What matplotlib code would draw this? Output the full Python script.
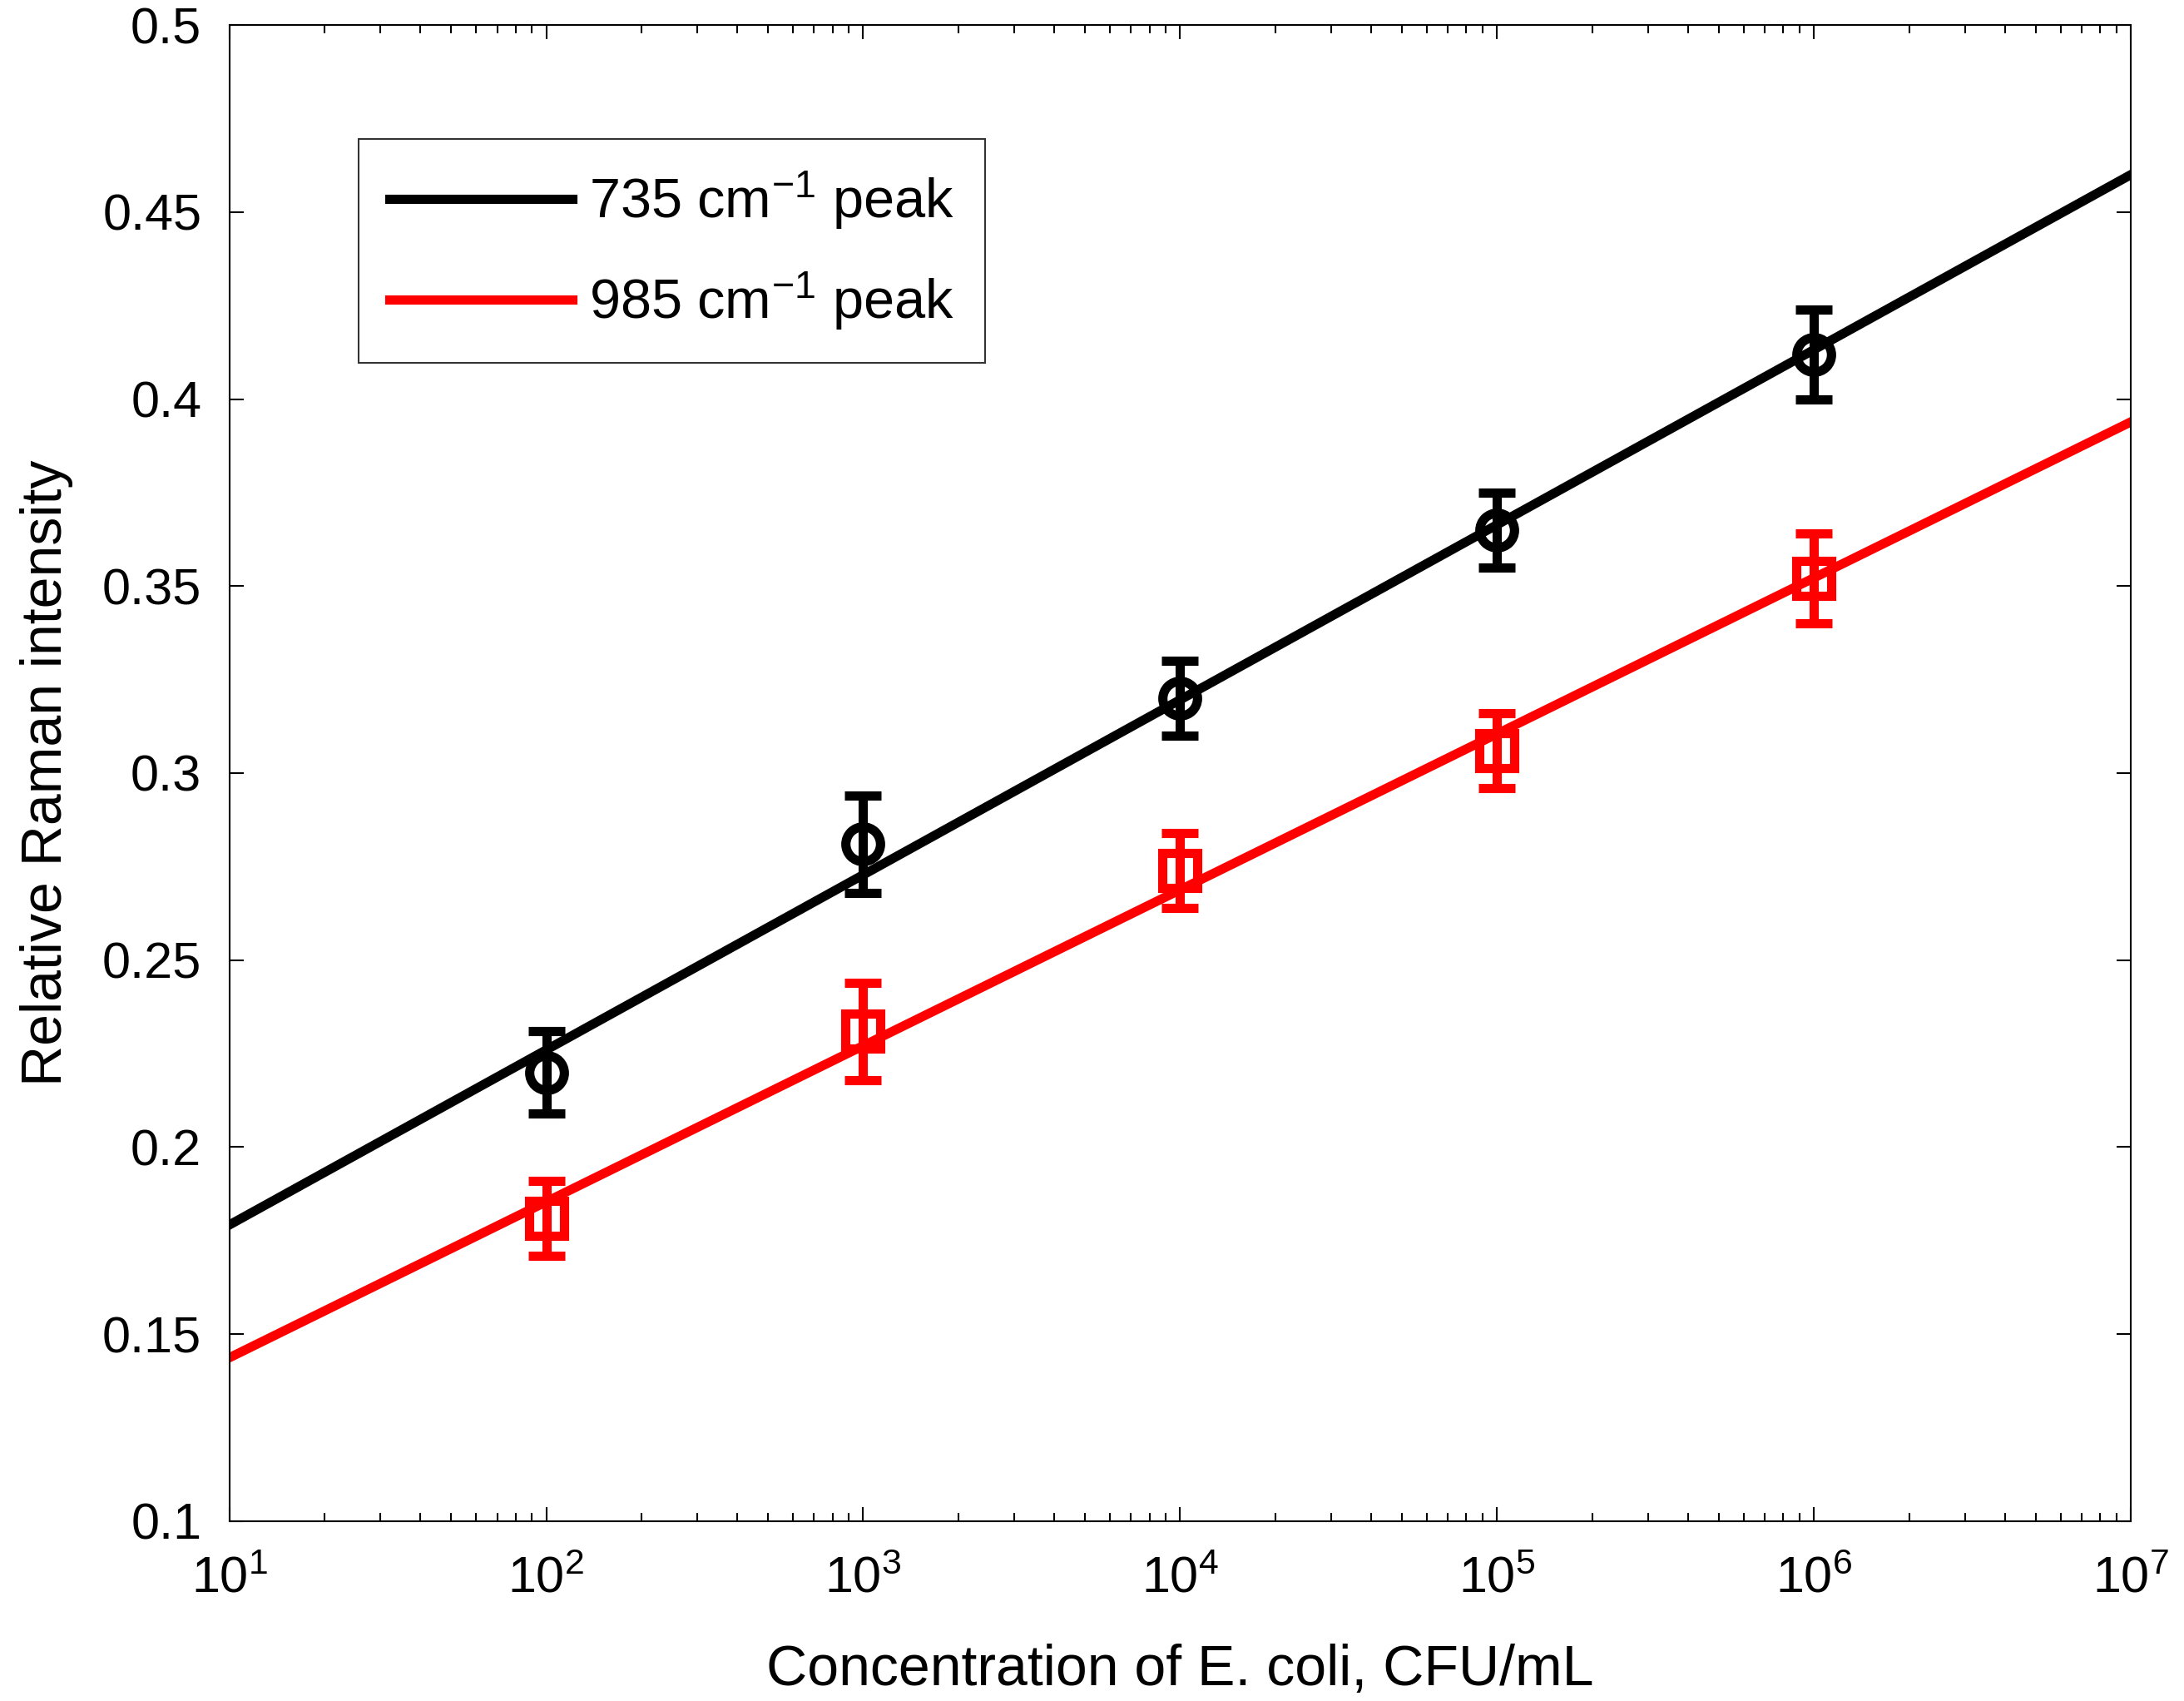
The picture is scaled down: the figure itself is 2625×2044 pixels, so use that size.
import numpy as np
import matplotlib
matplotlib.use("Agg")
import matplotlib.pyplot as plt
from matplotlib.ticker import FormatStrFormatter, LogLocator

plt.rcParams['font.family'] = ['Liberation Sans', 'DejaVu Sans']
plt.rcParams['mathtext.fontset'] = 'custom'
plt.rcParams['mathtext.rm'] = 'Liberation Sans'
plt.rcParams['mathtext.it'] = 'Liberation Sans'
plt.rcParams['mathtext.default'] = 'regular'

conc = [1e2, 1e3, 1e4, 1e5, 1e6]
peak735 = [0.220, 0.281, 0.320, 0.365, 0.412]
err735 = [0.011, 0.013, 0.010, 0.010, 0.012]
peak985 = [0.181, 0.231, 0.274, 0.306, 0.352]
err985 = [0.010, 0.013, 0.010, 0.010, 0.012]
labels = ["735 cm$^{-1}$ peak", "985 cm$^{-1}$ peak"]
xlim = (1e1, 1e7)
ylim = (0.1, 0.5)


def fit_line(x, y):
    k, b = np.polyfit(np.log10(x), y, 1)
    xx = np.array(xlim)
    return xx, k * np.log10(xx) + b


def main():
    fs = 44
    fig = plt.figure(figsize=(26.25, 20.44), dpi=100)
    ax = fig.add_axes([0.105, 0.1057, 0.8707, 0.8796])

    for y, e, c, m, lab in [(peak735, err735, 'k', 'o', labels[0]),
                            (peak985, err985, 'r', 's', labels[1])]:
        xx, yy = fit_line(conc, y)
        ax.plot(xx, yy, color=c, lw=8, label=lab, zorder=2)
        ax.errorbar(conc, y, yerr=e, fmt=m, color=c, mfc='none', mec=c,
                    ms=30, mew=8, elinewidth=8, capsize=16, capthick=8,
                    zorder=3)

    ax.set_xscale('log')
    ax.set_xlim(*xlim)
    ax.set_ylim(*ylim)
    ax.set_yticks(np.arange(0.1, 0.501, 0.05))
    ax.yaxis.set_major_formatter(FormatStrFormatter('%g'))
    ax.xaxis.set_minor_locator(LogLocator(base=10, subs=np.arange(2, 10)))

    ax.tick_params(which='both', direction='in', top=True, right=True,
                   width=1.5, labelsize=fs)
    ax.tick_params(which='major', length=12, pad=24)
    ax.tick_params(which='minor', length=7)
    ax.tick_params(axis='x', pad=30)
    for s in ax.spines.values():
        s.set_linewidth(1.5)

    ax.set_xlabel("Concentration of E. coli, CFU/mL", fontsize=49)
    ax.set_ylabel("Relative Raman intensity", fontsize=49)
    ax.xaxis.set_label_coords(0.5, -0.082)
    ax.yaxis.set_label_coords(-0.082, 0.5)

    leg = ax.legend(loc='upper left', bbox_to_anchor=(0.068, 0.924),
                    fontsize=48, frameon=True, fancybox=False,
                    edgecolor='k', handlelength=3.3, handletextpad=0.3,
                    borderpad=0.55, labelspacing=0.7, borderaxespad=0)
    leg.get_frame().set_linewidth(1.5)

    fig.savefig("out.png", dpi=100)


if __name__ == "__main__":
    main()
